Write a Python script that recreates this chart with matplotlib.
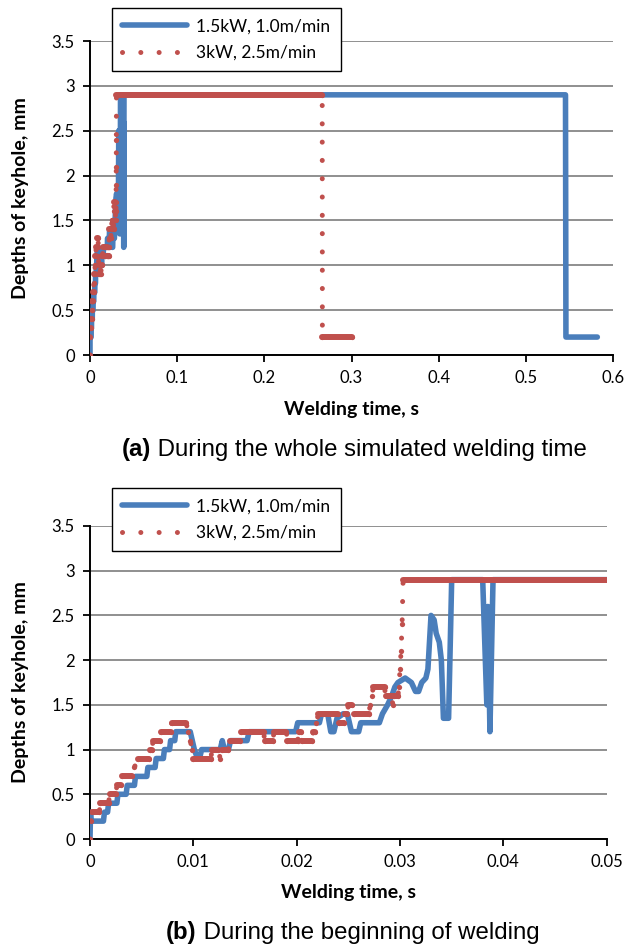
import numpy as np
import matplotlib
matplotlib.use("Agg")
import matplotlib.pyplot as plt
from matplotlib.collections import LineCollection

# keyhole depth (mm) vs welding time (s)
# 1.5 kW, 1.0 m/min
blue_t = [0.0, 0.00005, 0.0001, 0.0013, 0.0014, 0.0017, 0.0018, 0.0026, 0.0027, 0.0035,
          0.0036, 0.0043, 0.0044, 0.0055, 0.0056, 0.0063, 0.0064, 0.0071, 0.0072, 0.0077,
          0.0078, 0.0082, 0.0083, 0.0097, 0.0099, 0.0101, 0.0104, 0.0106, 0.0108, 0.0126,
          0.0128, 0.0130, 0.0134, 0.0136, 0.0152, 0.0154, 0.0199, 0.0201, 0.0222, 0.0224,
          0.0230, 0.0233, 0.0236, 0.0239, 0.0245, 0.0249, 0.0253, 0.0260, 0.0262, 0.0280,
          0.0283, 0.0288, 0.0292, 0.0295, 0.0298, 0.0305, 0.0311, 0.0315, 0.0318, 0.0321,
          0.0325, 0.0327, 0.0330, 0.0333, 0.0335, 0.0338, 0.0340, 0.0342, 0.0347, 0.0350,
          0.0380, 0.0384, 0.0385, 0.0387, 0.0390, 0.5455, 0.5460, 0.5820]
blue_d = [0.0, 0.3, 0.2, 0.2, 0.3, 0.3, 0.4, 0.4, 0.5, 0.5,
          0.6, 0.6, 0.7, 0.7, 0.8, 0.8, 0.9, 0.9, 1.0, 1.0,
          1.1, 1.1, 1.2, 1.2, 1.1, 1.0, 0.9, 0.9, 1.0, 1.0,
          1.1, 1.0, 1.0, 1.1, 1.1, 1.2, 1.2, 1.3, 1.3, 1.4,
          1.4, 1.2, 1.2, 1.35, 1.4, 1.4, 1.2, 1.2, 1.3, 1.3,
          1.4, 1.5, 1.6, 1.7, 1.75, 1.8, 1.75, 1.65, 1.65, 1.75,
          1.8, 1.9, 2.5, 2.45, 2.3, 2.2, 2.0, 1.35, 1.35, 2.9,
          2.9, 1.5, 2.6, 1.2, 2.9, 2.9, 0.2, 0.2]

# 3 kW, 2.5 m/min
red_t = [0.0, 0.0001, 0.0002, 0.0009, 0.0010, 0.0018, 0.0019, 0.0025, 0.0026, 0.0030,
         0.0031, 0.0041, 0.0043, 0.0046, 0.0057, 0.0058, 0.0060, 0.0061, 0.0068, 0.0069,
         0.0078, 0.0079, 0.0093, 0.0095, 0.0097, 0.0099, 0.0100, 0.0117, 0.0118, 0.0124,
         0.0126, 0.0128, 0.0134, 0.0135, 0.0145, 0.0146, 0.0168, 0.0169, 0.0177, 0.0178,
         0.0190, 0.0191, 0.0201, 0.0202, 0.0204, 0.0205, 0.0215, 0.0216, 0.0218, 0.0219,
         0.0221, 0.0240, 0.0241, 0.0246, 0.0247, 0.0249, 0.0250, 0.0254, 0.0255, 0.0270,
         0.0271, 0.0273, 0.0274, 0.0285, 0.0286, 0.0292, 0.0293, 0.0294, 0.0298, 0.0299,
         0.0300, 0.0301, 0.0302, 0.0303, 0.2664, 0.2666, 0.3000]
red_d = [0.0, 0.2, 0.3, 0.3, 0.4, 0.4, 0.5, 0.5, 0.6, 0.6,
         0.7, 0.7, 0.8, 0.9, 0.9, 1.0, 1.0, 1.1, 1.1, 1.2,
         1.2, 1.3, 1.3, 1.2, 1.1, 1.0, 0.9, 0.9, 1.0, 1.0,
         0.9, 1.0, 1.0, 1.1, 1.1, 1.2, 1.2, 1.1, 1.1, 1.2,
         1.2, 1.1, 1.1, 1.2, 1.2, 1.1, 1.1, 1.2, 1.2, 1.3,
         1.4, 1.4, 1.3, 1.3, 1.4, 1.4, 1.5, 1.5, 1.4, 1.4,
         1.5, 1.6, 1.7, 1.7, 1.6, 1.6, 1.5, 1.6, 1.6, 1.7,
         1.9, 2.1, 2.4, 2.9, 2.9, 0.2, 0.2]

series_labels = ["1.5kW, 1.0m/min", "3kW, 2.5m/min"]
y_ticks = [0, 0.5, 1, 1.5, 2, 2.5, 3, 3.5]
x_ticks_a = [0, 0.1, 0.2, 0.3, 0.4, 0.5, 0.6]
x_ticks_b = [0, 0.01, 0.02, 0.03, 0.04, 0.05]
captions = [("(a)", " During the whole simulated welding time"),
            ("(b)", " During the beginning of welding")]

BLUE = "#4A7EBB"
RED = "#C0504D"
TICK_FONT = "Lato"
CAP_FONT = "Liberation Sans"

fig = plt.figure(figsize=(6.28, 9.47), dpi=100)
W, H = 628.0, 947.0


def panel(rect, xticks, legend_top, caption, cap_x, cap_y, xlab_y):
    l, t, r, b = rect
    ax = fig.add_axes([l / W, 1 - b / H, (r - l) / W, (b - t) / H])
    ax.set_xlim(xticks[0], xticks[-1])
    ax.set_ylim(0, 3.5)

    ax.plot(blue_t, blue_d, color=BLUE, lw=4, solid_joinstyle="round",
            solid_capstyle="round", label=series_labels[0], zorder=3)
    ax.plot(red_t, red_d, color=RED, lw=3.6, linestyle=(0, (0.01, 3.65)),
            dash_capstyle="round", label=series_labels[1], zorder=4)
    rt = np.array(red_t)
    rd = np.array(red_d)
    flat = np.where(np.diff(rd) == 0)[0]
    segs = [[(rt[i], rd[i]), (rt[i + 1], rd[i + 1])] for i in flat]
    ax.add_collection(LineCollection(segs, colors=RED, linewidths=4.3,
                                     capstyle="round", zorder=4))
    ax.plot(rt, rd, "o", color=RED, ms=3.8, mew=0, zorder=4)

    ax.set_xticks(xticks)
    ax.set_xticklabels(["%g" % v for v in xticks])
    ax.set_yticks(y_ticks)
    ax.set_yticklabels(["%g" % v for v in y_ticks])
    for s in ("top", "right"):
        ax.spines[s].set_visible(False)
    for s in ("left", "bottom"):
        ax.spines[s].set_linewidth(1.4)
    ax.tick_params(direction="out", length=5, width=1.3, pad=6, labelsize=12)
    for lab in ax.get_xticklabels() + ax.get_yticklabels():
        lab.set_family(TICK_FONT)
    ax.yaxis.grid(True, color="#878787", lw=1.3)
    ax.set_axisbelow(True)

    ax.set_xlabel("Welding time, s", family=TICK_FONT, weight="bold", fontsize=14)
    ax.set_ylabel("Depths of keyhole, mm", family=TICK_FONT, weight="bold", fontsize=14)
    ax.xaxis.set_label_coords(0.5, (b - xlab_y) / (b - t))
    ax.yaxis.set_label_coords((29 - l) / (r - l), 0.5)

    leg = ax.legend(loc="upper left",
                    bbox_to_anchor=((112 - l) / (r - l), (b - legend_top) / (b - t)),
                    borderaxespad=0, fancybox=False, framealpha=1,
                    handlelength=3.7, handletextpad=0.55, labelspacing=0.6,
                    borderpad=0.6, prop={"family": TICK_FONT, "size": 12.5})
    leg.get_frame().set_edgecolor("black")
    leg.get_frame().set_linewidth(1.0)

    t1 = fig.text(cap_x / W, 1 - cap_y / H, caption[0], family=CAP_FONT,
                  weight="bold", fontsize=17.3, va="center")
    ax.annotate(caption[1], xy=(1, 0), xycoords=t1, va="bottom",
                family=CAP_FONT, fontsize=17.3, annotation_clip=False)
    return ax


panel((90, 41, 613, 355), x_ticks_a, 8, captions[0], 122, 449, 401)
panel((90, 526, 606.7, 839), x_ticks_b, 488, captions[1], 166, 932, 884)

fig.savefig("out.png", dpi=100)
